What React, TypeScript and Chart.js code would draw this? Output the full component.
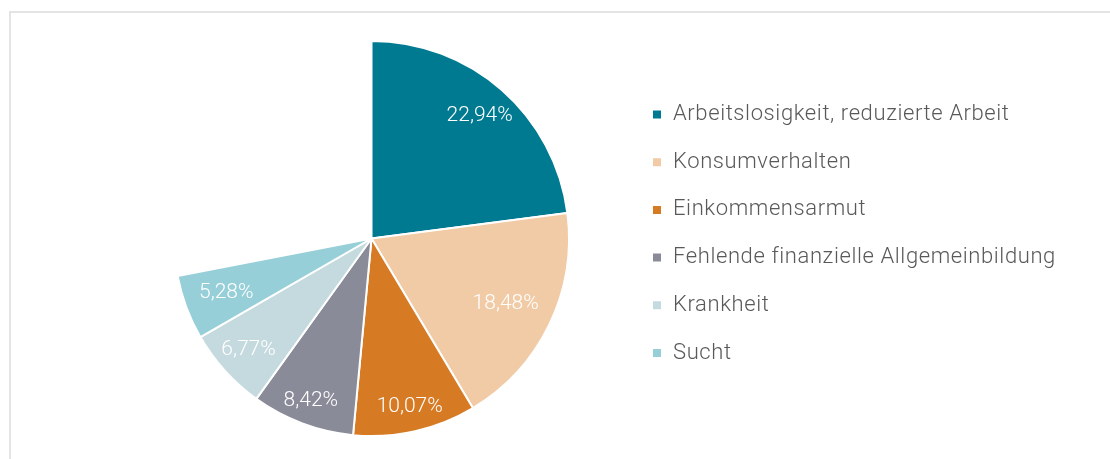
import React, { useEffect, useRef } from "react";
import { Chart, registerables } from "chart.js";

Chart.register(...registerables);

const categories = [
  "Arbeitslosigkeit, reduzierte Arbeit",
  "Konsumverhalten",
  "Einkommensarmut",
  "Fehlende finanzielle Allgemeinbildung",
  "Krankheit",
  "Sucht",
];
const shares = [22.94, 18.48, 10.07, 8.42, 6.77, 5.28];

const COLORS = ["#007a91", "#f1cba6", "#d67a24", "#8a8b99", "#c5dadf", "#96cfd8"];
const LABEL_RADIUS = [0.83, 0.755, 0.876, 0.876, 0.84, 0.785];
const FONT = "Roboto";
const LEGEND_SIZE = 22;
const LEGEND_SPACING = "0.6px";
const LEGEND_PAD = 25.7;
const BOX = 10;

const spacingPlugin = {
  id: "spacing",
  beforeUpdate(chart: any) {
    (chart.ctx as any).letterSpacing = LEGEND_SPACING;
  },
  beforeDraw(chart: any) {
    (chart.ctx as any).letterSpacing = LEGEND_SPACING;
  },
};

const sliceLabels = {
  id: "sliceLabels",
  afterDatasetsDraw(chart: any) {
    const ctx = chart.ctx;
    const meta = chart.getDatasetMeta(0);
    ctx.save();
    (ctx as any).letterSpacing = "0px";
    ctx.font = `300 21px ${FONT}`;
    ctx.fillStyle = "#ffffff";
    ctx.textAlign = "center";
    ctx.textBaseline = "middle";
    meta.data.forEach((arc: any, i: number) => {
      const p = arc.getProps(["x", "y", "startAngle", "endAngle", "outerRadius"], true);
      const mid = (p.startAngle + p.endAngle) / 2;
      const r = p.outerRadius * LABEL_RADIUS[i];
      const txt = shares[i].toFixed(2).replace(".", ",") + "%";
      ctx.fillText(txt, p.x + Math.cos(mid) * r, p.y + Math.sin(mid) * r);
    });
    ctx.restore();
  },
};

function measureLegendWidth(): number {
  const c = document.createElement("canvas");
  const ctx = c.getContext("2d") as any;
  ctx.font = `300 ${LEGEND_SIZE}px ${FONT}`;
  ctx.letterSpacing = LEGEND_SPACING;
  const maxText = Math.max(...categories.map((t) => ctx.measureText(t).width));
  return LEGEND_PAD + BOX + LEGEND_SIZE / 2 + maxText + 10;
}

export default function App() {
  const ref = useRef<HTMLCanvasElement | null>(null);
  useEffect(() => {
    if (!ref.current) return;
    const total = shares.reduce((a, b) => a + b, 0);
    const areaRight = 652 - LEGEND_PAD;
    const areaLeft = 2 * 373.3 - areaRight;
    const legendW = measureLegendWidth();
    const padRight = 1110 - areaRight - legendW;
    const firstItemTop = 114.5 - BOX / 2 - (LEGEND_SIZE - BOX) / 2;
    const titleH = firstItemTop - 40 - LEGEND_PAD;
    const chart = new Chart(ref.current, {
      type: "pie",
      data: {
        labels: categories,
        datasets: [
          {
            data: shares,
            backgroundColor: COLORS,
            borderColor: "#ffffff",
            borderWidth: 2,
          },
        ],
      },
      options: {
        responsive: false,
        animation: false,
        devicePixelRatio: 1,
        rotation: 0,
        circumference: (total / 100) * 360,
        layout: { padding: { top: 40, bottom: 22, left: areaLeft, right: padRight } },
        plugins: {
          tooltip: { enabled: false },
          legend: {
            position: "right",
            align: "start",
            title: {
              display: true,
              text: "",
              font: { size: 10, lineHeight: 1 },
              padding: { top: titleH - 10, bottom: 0 },
            },
            labels: {
              boxWidth: BOX,
              boxHeight: BOX,
              padding: LEGEND_PAD,
              color: "#595959",
              font: { family: FONT, size: LEGEND_SIZE, weight: "300" },
            },
          },
        },
      },
      plugins: [spacingPlugin, sliceLabels],
    });
    return () => chart.destroy();
  }, []);
  return (
    <div style={{ position: "fixed", inset: 0, overflow: "hidden", background: "#fff" }}>
      <div
        style={{
          position: "absolute",
          left: 9,
          top: 11,
          width: 1300,
          height: 700,
          borderTop: "2px solid #e4e4e4",
          borderLeft: "2px solid #e4e4e4",
        }}
      />
      <canvas ref={ref} width={1110} height={459} style={{ position: "absolute", left: 0, top: 0 }} />
    </div>
  );
}
